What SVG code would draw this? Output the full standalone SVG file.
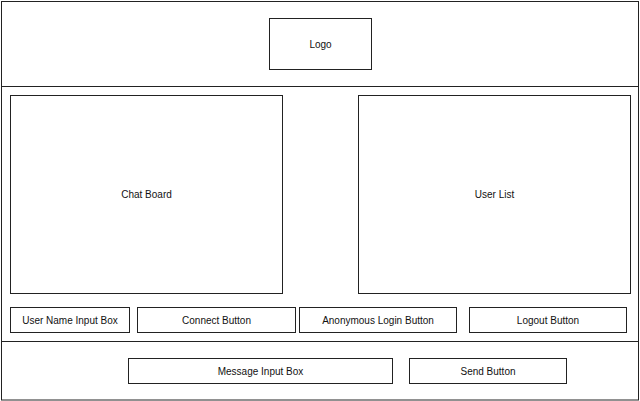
<svg xmlns="http://www.w3.org/2000/svg" width="640" height="401" viewBox="0 0 640 401">
<style>
rect{fill:#fff;stroke:#222;stroke-width:1}
.sec{fill:none;stroke:#222;stroke-width:1}
text{font-family:"Liberation Sans",Arial,sans-serif;font-size:10px;fill:#111;text-anchor:middle}
</style>
<rect x="0" y="0" width="640" height="401" style="stroke:none"/>
<g id="frame">
<rect x="1.5" y="1.5" width="637" height="398.5" class="sec"/>
<line x1="1.5" y1="86.5" x2="638.5" y2="86.5" class="sec"/>
<line x1="1.5" y1="341.5" x2="638.5" y2="341.5" class="sec"/>
</g>
<g id="logo"><rect x="269.5" y="18.5" width="102" height="51"/><text x="320.5" y="47.5">Logo</text></g>
<g id="chat-board"><rect x="10.5" y="95.5" width="272" height="198"/><text x="146.5" y="197.5">Chat Board</text></g>
<g id="user-list"><rect x="358.5" y="95.5" width="272" height="198"/><text x="494.5" y="197.5">User List</text></g>
<g id="user-name-input"><rect x="10.5" y="307.5" width="119" height="25"/><text x="70" y="323.5">User Name Input Box</text></g>
<g id="connect-button"><rect x="137.5" y="307.5" width="158" height="25"/><text x="216.5" y="323.5">Connect Button</text></g>
<g id="anonymous-login-button"><rect x="299.5" y="307.5" width="157" height="25"/><text x="378" y="323.5">Anonymous Login Button</text></g>
<g id="logout-button"><rect x="469.5" y="307.5" width="157" height="25"/><text x="548" y="323.5">Logout Button</text></g>
<g id="message-input"><rect x="128.5" y="358.5" width="264" height="25"/><text x="260.5" y="374.5">Message Input Box</text></g>
<g id="send-button"><rect x="409.5" y="358.5" width="157" height="25"/><text x="488" y="374.5">Send Button</text></g>
<g id="connectors"/>
</svg>
